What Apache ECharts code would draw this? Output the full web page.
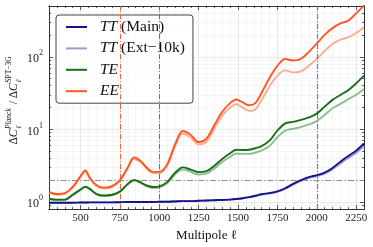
<!DOCTYPE html>
<html><head><meta charset="utf-8">
<script src="https://cdn.jsdelivr.net/npm/echarts@6/dist/echarts.min.js"></script>
<style>html,body{margin:0;padding:0;background:#fff}#c{width:373px;height:247px}</style>
</head><body><div id="c"></div>
<script>
// ---------- data ----------
const ell = [300,350,400,450,500,530,560,600,650,700,750,800,840,880,920,960,1000,1050,1100,1150,1200,1250,1300,1350,1400,1450,1490,1530,1570,1610,1650,1700,1750,1800,1850,1900,1950,2000,2050,2100,2150,2200,2250,2300];
const ttMain = [0.98,0.98,0.98,0.98,0.985,0.985,0.99,0.99,0.99,0.99,0.995,1.0,1.0,1.0,1.0,1.0,1.01,1.01,1.02,1.03,1.03,1.04,1.05,1.06,1.07,1.08,1.10,1.13,1.17,1.22,1.28,1.33,1.40,1.55,1.78,2.0,2.2,2.35,2.55,2.95,3.6,4.3,5.1,6.4];
const ttExt  = [0.98,0.98,0.98,0.98,0.985,0.985,0.99,0.99,0.99,0.99,0.995,1.0,1.0,1.0,1.0,1.0,1.01,1.01,1.02,1.03,1.03,1.04,1.05,1.06,1.07,1.08,1.10,1.13,1.16,1.21,1.27,1.32,1.38,1.52,1.74,1.95,2.14,2.28,2.46,2.82,3.4,4.05,4.75,5.9];
const teMain = [1.11,1.08,1.08,1.26,1.49,1.63,1.52,1.30,1.23,1.26,1.40,1.78,2.02,1.88,1.69,1.61,1.64,1.88,2.52,3.0,2.8,2.58,2.66,3.17,3.92,4.69,5.25,5.2,5.25,5.5,5.9,7.0,9.6,12.1,12.7,13.5,14.6,16.5,20.6,25.5,29.8,34.7,43,55];
const teExt  = [1.10,1.07,1.07,1.24,1.46,1.60,1.49,1.28,1.21,1.24,1.38,1.74,1.97,1.84,1.65,1.56,1.59,1.81,2.4,2.8,2.6,2.4,2.46,2.9,3.55,4.2,4.65,4.6,4.6,4.8,5.1,5.9,7.8,9.6,10.2,10.8,11.7,13.0,15.8,19.5,22.5,26,30,36];
const eeMain = [1.38,1.29,1.33,1.62,2.27,2.72,2.15,1.72,1.58,1.66,2.0,3.0,4.1,3.7,3.0,2.6,2.6,3.3,6.2,9.5,8.4,6.7,7.5,11.5,17.5,23,25.8,23.5,21.5,23,32,51,75,93,89,94,117,152,200,248,288,315,395,510];
const eeExt  = [1.35,1.26,1.30,1.58,2.2,2.62,2.08,1.67,1.53,1.61,1.94,2.9,3.9,3.55,2.88,2.5,2.48,3.15,5.8,8.8,7.7,6.2,6.8,10.3,15.5,20,22.2,20,18,18.8,25.5,39,55,65,61,63,75,93,120,150,172,185,212,255];
const xMajorTicks = [500,750,1000,1250,1500,1750,2000,2250];
const xMinorTicks = [300,350,400,450,550,600,650,700,800,850,900,950,1050,1100,1150,1200,1300,1350,1400,1450,1550,1600,1650,1700,1800,1850,1900,1950,2050,2100,2150,2200,2300];
const yMajorTicks = [1,10,100];
const yMinorTicks = [0.8,0.9,2,3,4,5,6,7,8,9,20,30,40,50,60,70,80,90,200,300,400,500];
const refEll = [750,1000,2000];
const refRatio = [2];
const legendNames = ['TT (Main)','TT (Ext\u221210k)','TE','EE'];

// ---------- chart ----------
const F0 = 'Liberation Serif';
const F = '"Liberation Serif","DejaVu Serif",serif';
const pairs = arr => ell.map((l,i)=>[l,arr[i]]);
const C = {ttM:'#14148c', ttE:'#9a9ad8', teM:'#1a6e1a', teE:'#8cbf8c', eeM:'#ff5722', eeE:'#ffab8f'};
function ln(name,data,color,z){
  return {name, type:'line', data:pairs(data), xAxisIndex:0, yAxisIndex:0, showSymbol:false, symbol:'none',
    smooth:0.35, lineStyle:{color, width:1.9}, itemStyle:{color}, z, silent:true, animation:false};
}
function refLine(name, item, color, width, dash){
  return {name, type:'line', data:[], xAxisIndex:0, yAxisIndex:0, z:8, silent:true, animation:false,
    color: color, itemStyle:{color}, lineStyle:{color},
    markLine:{silent:true, symbol:'none', label:{show:false}, animation:false,
      lineStyle:{color, width, type:dash, opacity:0.95},
      data:[Object.assign({lineStyle:{color, width, type:dash}}, item)]}};
}
const axisCol = '#333';
function xAx(pos, ticks, len, opts){
  return Object.assign({type:'value', position:pos, min:300, max:2300,
    axisLine:{show:true, onZero:false, lineStyle:{color:axisCol,width:1}},
    axisTick:{show:true, inside:true, length:len, customValues:ticks, lineStyle:{color:axisCol,width:0.8}},
    axisLabel:{show:false}, splitLine:{show:false}}, opts||{});
}
function yAx(pos, ticks, len, opts){
  return Object.assign({type:'log', logBase:10, position:pos, min:0.8, max:500,
    axisLine:{show:true, onZero:false, lineStyle:{color:axisCol,width:1}},
    axisTick:{show:true, inside:true, length:len, customValues:ticks, lineStyle:{color:axisCol,width:0.8}},
    axisLabel:{show:false}, splitLine:{show:false}}, opts||{});
}
const series = [
  ln('EE (Ext\u221210k)', eeExt, C.eeE, 2),
  ln('EE', eeMain, C.eeM, 3),
  ln('TE (Ext\u221210k)', teExt, C.teE, 4),
  ln('TE', teMain, C.teM, 5),
  ln('TT (Ext\u221210k)', ttExt, C.ttE, 6),
  ln('TT (Main)', ttMain, C.ttM, 7),
  refLine('ref750', {xAxis:refEll[0]}, '#ff5722', 1, [5,2,1,2]),
  refLine('ref1000', {xAxis:refEll[1]}, '#2e8b2e', 1, [5,2,1,2]),
  refLine('ref2000', {xAxis:refEll[2]}, '#6f6fcc', 1.2, [5,2,1,2]),
  refLine('ref2', {yAxis:refRatio[0]}, '#8a8a8a', 1.2, [6,2,1.5,2]),
];

const chart = echarts.init(document.getElementById('c'), null, {renderer:'canvas'});
const LF = 15.5;
const legendRich = {i:{fontFamily:F, fontStyle:'italic', fontSize:LF, lineHeight:15, color:'#111', padding:[0,0,0,8]},
                    r:{fontFamily:F, fontSize:LF, lineHeight:15, color:'#111'}};
const legendFmt = {'TT (Main)':'{i|TT} {r|(Main)}', 'TT (Ext\u221210k)':'{i|TT} {r|(Ext\u221210k)}', 'TE':'{i|TE}', 'EE':'{i|EE}'};

// y-axis title built from measured pieces
const cv = document.createElement('canvas').getContext('2d');
function mw(t, f){ cv.font = f; return cv.measureText(t).width; }
const big = 11.5, sm = 7.5;
const fBig = big+'px "'+F0+'"', fBigI = 'italic '+fBig, fSm = 'italic '+sm+'px "'+F0+'"', fSmU = sm+'px "'+F0+'"';
const kids = []; let px = 0;
function put(t, font, dy){ kids.push({type:'text', x:px, y:dy, style:{text:t, font:font, fill:'#111', verticalAlign:'middle', align:'left'}}); return mw(t,font); }
function dC(){ px += put('\u0394', fBig, 0); px += put('C', fBigI, 0) + 0.5; }
function supsub(sup, supFont){ const a = put(sup, supFont, -5); put('\u2113', fSm, 5); px += Math.max(a, 4) + 1; }
dC(); supsub('Planck', fSm); px += put(' / ', fBig, 0); dC(); supsub('SPT\u22123G', fSmU);
const totalW = px; kids.forEach(k=>k.x -= totalW/2);

chart.setOption({
  animation:false,
  grid:{left:49, right:9, top:6, bottom:37, containLabel:false},
  legend:{data:legendNames, orient:'vertical', left:56, top:15, icon:'rect', itemWidth:21, itemHeight:2,
    itemGap:5.4, padding:[4,8,4,10], borderColor:'#444', borderWidth:1, borderRadius:3,
    backgroundColor:'rgba(255,255,255,0.8)', selectedMode:false,
    textStyle:{fontFamily:F, fontSize:LF, lineHeight:15, rich:legendRich},
    formatter: n => legendFmt[n] || n},
  xAxis:[
    xAx('bottom', xMajorTicks, 4, {axisLabel:{show:true, customValues:xMajorTicks, fontFamily:F, fontSize:11, color:'#222', margin:4,
        formatter: v => String(v)},
      splitLine:{show:true, lineStyle:{color:'#e2e2e2', width:0.8}},
      name:'Multipole \u2113', nameLocation:'middle', nameGap:19, nameTextStyle:{fontFamily:F, fontSize:13, color:'#111'}}),
    xAx('bottom', xMinorTicks, 2, {splitLine:{show:true, lineStyle:{color:'#f2f2f2', width:0.8}}}),
    xAx('top', xMajorTicks, 4),
    xAx('top', xMinorTicks, 2),
  ],
  yAxis:[
    yAx('left', yMajorTicks, 4, {axisLabel:{show:true, customValues:yMajorTicks, margin:6,
      formatter: v => '{b|10}{s|' + Math.round(Math.log10(v)) + '}',
      rich:{b:{fontFamily:F, fontSize:12, color:'#222', verticalAlign:'bottom', lineHeight:16},
            s:{fontFamily:F, fontSize:8, color:'#222', verticalAlign:'top', lineHeight:16}}},
      splitLine:{show:true, lineStyle:{color:'#e2e2e2', width:0.8}}}),
    yAx('left', yMinorTicks, 2, {splitLine:{show:true, lineStyle:{color:'#f2f2f2', width:0.8}}}),
    yAx('right', yMajorTicks, 4),
    yAx('right', yMinorTicks, 2),
  ],
  graphic:[{type:'group', x:14, y:100, rotation:Math.PI/2, children:kids}],
  series
});
</script></body></html>
